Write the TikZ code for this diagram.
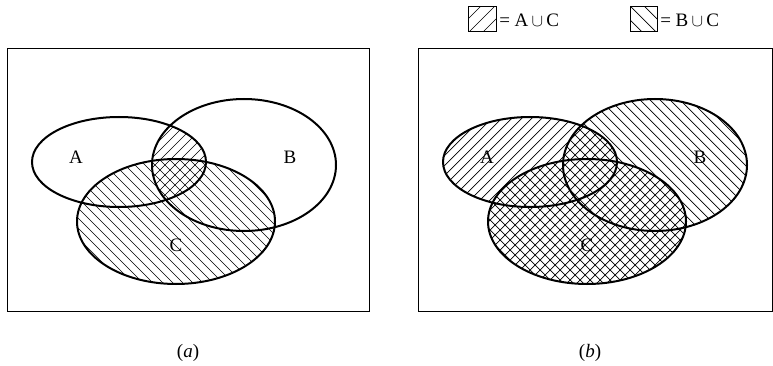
\documentclass[tikz,border=0pt]{standalone}
\usepackage{fontspec}
\setmainfont{Liberation Serif}

\newcommand\fwdlines[1]{\foreach \c in {#1} \draw[hatch] (\c,0) -- ++(-370,370);}
\newcommand\bwdlines[1]{\foreach \c in {#1} \draw[hatch] (\c,0) -- ++(370,370);}

\begin{document}
\begin{tikzpicture}[x=1pt,y=-1pt,line width=.5pt,
  lbl/.style={inner sep=0pt,font=\fontsize{19}{22}\selectfont},
  ring/.style={line width=2pt},
  hatch/.style={line width=.7pt}]
\path[use as bounding box] (0,0) rectangle (773,366);
% legend
\begin{scope}
\clip (468,7) rectangle (496,32);
\fwdlines{487,501,515}
\end{scope}
\draw[line width=1pt] (468,7) rectangle (496,32);
\node[lbl,anchor=west] (keyac) at (499,20) {= A\,$\cup$\,C};
\begin{scope}
\clip (630,7) rectangle (657,32);
\bwdlines{610,624,638}
\end{scope}
\draw[line width=1pt] (630,7) rectangle (657,32);
\node[lbl,anchor=west] (keybc) at (660,20) {= B\,$\cup$\,C};
% (a)
\draw[line width=1pt] (7,49) rectangle (369,311);
\begin{scope}
\clip (119,162) ellipse [x radius=87pt,y radius=45pt];
\clip (244,165) ellipse [x radius=92pt,y radius=66pt];
\fwdlines{0,10,...,1160}
\end{scope}
\begin{scope}
\clip (176,221.5) ellipse [x radius=99pt,y radius=62.5pt];
\bwdlines{-400,-390,...,800}
\end{scope}
\draw[ring] (119,162) ellipse [x radius=87pt,y radius=45pt];
\draw[ring] (244,165) ellipse [x radius=92pt,y radius=66pt];
\draw[ring] (176,221.5) ellipse [x radius=99pt,y radius=62.5pt];
\node[lbl] (aA) at (76,157) {A};
\node[lbl] (aB) at (290,157) {B};
\node[lbl] (aC) at (176,245) {C};
\node[lbl] (capa) at (188,353) {(\textit{a})};
% (b)
\draw[line width=1pt] (418,49) rectangle (772,311);
\begin{scope}
\clip (530,162) ellipse [x radius=87pt,y radius=45pt]
      (587,221.5) ellipse [x radius=99pt,y radius=62.5pt];
\fwdlines{0,10,...,1160}
\end{scope}
\begin{scope}
\clip (655,165) ellipse [x radius=92pt,y radius=66pt]
      (587,221.5) ellipse [x radius=99pt,y radius=62.5pt];
\bwdlines{-400,-390,...,800}
\end{scope}
\draw[ring] (530,162) ellipse [x radius=87pt,y radius=45pt];
\draw[ring] (655,165) ellipse [x radius=92pt,y radius=66pt];
\draw[ring] (587,221.5) ellipse [x radius=99pt,y radius=62.5pt];
\node[lbl] (bA) at (487,157) {A};
\node[lbl] (bB) at (700,157) {B};
\node[lbl] (bC) at (587,245) {C};
\node[lbl] (capb) at (590,353) {(\textit{b})};
\end{tikzpicture}
\end{document}
